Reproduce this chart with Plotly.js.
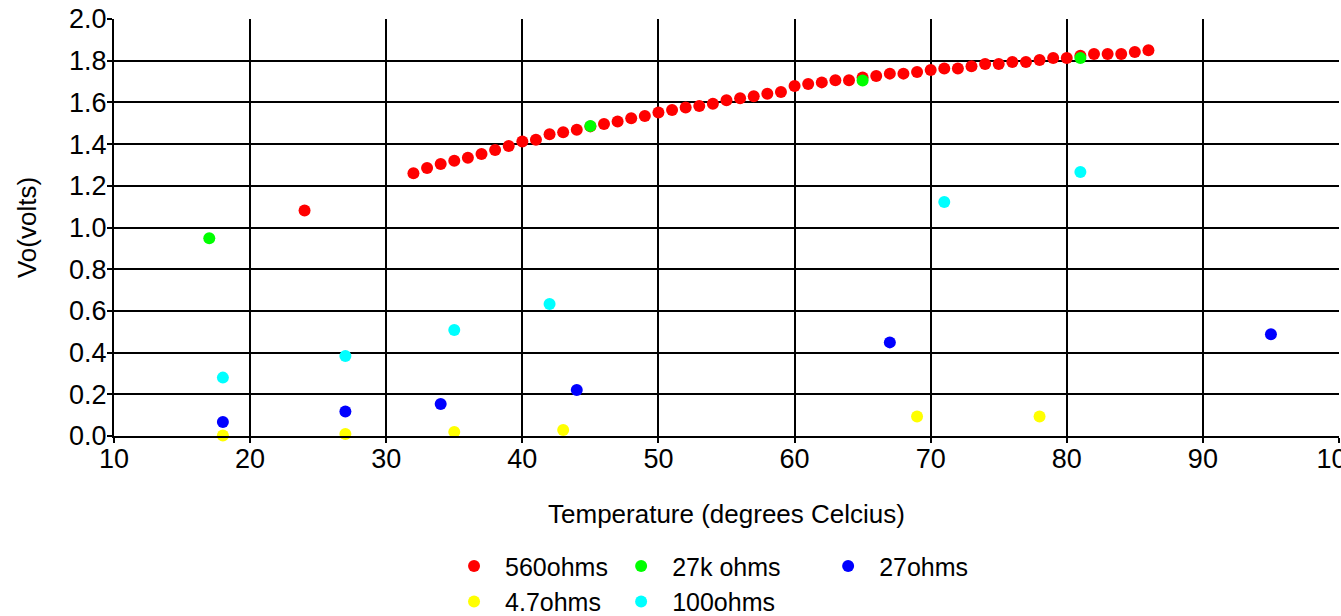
<!DOCTYPE html>
<html>
<head>
<meta charset="utf-8">
<script src="https://cdn.plot.ly/plotly-3.0.1.min.js"></script>
<style>
  html, body { margin: 0; padding: 0; background: #ffffff; overflow: hidden; }
  #chart { width: 1341px; height: 616px; }
</style>
</head>
<body>
<div id="chart"></div>
<script>
// ---- data ----
var temp560 = [24, 32, 33, 34, 35, 36, 37, 38, 39, 40, 41, 42, 43, 44, 45, 46, 47, 48, 49, 50,
               51, 52, 53, 54, 55, 56, 57, 58, 59, 60, 61, 62, 63, 64, 65, 66, 67, 68, 69, 70,
               71, 72, 73, 74, 75, 76, 77, 78, 79, 80, 81, 82, 83, 84, 85, 86];
var vo560 = [1.081, 1.26, 1.285, 1.305, 1.32, 1.335, 1.352, 1.372, 1.391, 1.412, 1.421, 1.447, 1.457, 1.469, 1.485, 1.496, 1.508, 1.524, 1.535, 1.552,
             1.563, 1.575, 1.583, 1.594, 1.61, 1.62, 1.629, 1.642, 1.65, 1.679, 1.688, 1.696, 1.706, 1.706, 1.72, 1.727, 1.738, 1.738, 1.746, 1.755,
             1.763, 1.763, 1.773, 1.784, 1.784, 1.794, 1.794, 1.803, 1.813, 1.813, 1.824, 1.832, 1.832, 1.832, 1.842, 1.85];

var temp27k = [17, 45, 65, 81];
var vo27k = [0.948, 1.487, 1.705, 1.813];

var temp27 = [18, 27, 34, 44, 67, 95];
var vo27 = [0.067, 0.117, 0.153, 0.221, 0.449, 0.488];

var temp4p7 = [18, 27, 35, 43, 69, 78];
var vo4p7 = [0.002, 0.01, 0.019, 0.029, 0.093, 0.093];

var temp100 = [18, 27, 35, 42, 71, 81];
var vo100 = [0.28, 0.384, 0.508, 0.633, 1.122, 1.266];

var seriesNames = ["560ohms", "27k ohms", "27ohms", "4.7ohms", "100ohms"];
var xTickVals = [10, 20, 30, 40, 50, 60, 70, 80, 90, 100];
var yTickVals = [0, 0.2, 0.4, 0.6, 0.8, 1.0, 1.2, 1.4, 1.6, 1.8, 2.0];
var yTickText = ["0.0", "0.2", "0.4", "0.6", "0.8", "1.0", "1.2", "1.4", "1.6", "1.8", "2.0"];

// ---- chart ----
var FONT = '"Liberation Sans", Arial, sans-serif';
var TICKFS = 27, TITLEFS = 26, LEGFS = 25;

function mk(x, y, name, color, size, legendId) {
  return {
    type: 'scatter', mode: 'markers', x: x, y: y, name: name,
    marker: { color: color, size: size, line: { width: 0 } },
    legend: legendId, cliponaxis: false
  };
}

var data = [
  mk(temp560, vo560, seriesNames[0], '#ff0000', 12, 'legend'),
  mk(temp27k, vo27k, seriesNames[1], '#00ff00', 12, 'legend2'),
  mk(temp27, vo27, seriesNames[2], '#0000ff', 12, 'legend3'),
  mk(temp4p7, vo4p7, seriesNames[3], '#ffff00', 12, 'legend'),
  mk(temp100, vo100, seriesNames[4], '#00ffff', 12, 'legend2')
];

var legendCommon = {
  orientation: 'v', xanchor: 'left', yanchor: 'top',
  font: { family: FONT, size: LEGFS, color: '#000000' },
  bgcolor: 'rgba(0,0,0,0)', borderwidth: 0, itemwidth: 52,
  tracegroupgap: 0
};

var LY = -0.257;

var layout = {
  width: 1341, height: 616,
  margin: { l: 114, r: 2, t: 19, b: 180, pad: 0, autoexpand: false },
  paper_bgcolor: '#ffffff', plot_bgcolor: '#ffffff',
  font: { family: FONT, size: TICKFS, color: '#000000' },
  showlegend: true,
  xaxis: {
    range: [10, 100], tickvals: xTickVals, ticktext: xTickVals.map(String),
    showgrid: true, gridcolor: '#000000', gridwidth: 2,
    showline: true, linecolor: '#000000', linewidth: 2,
    ticks: 'outside', ticklen: 5, tickwidth: 2, tickcolor: '#000000',
    ticklabelstandoff: -7, ticklabeloverflow: 'allow',
    zeroline: false, automargin: false,
    tickfont: { family: FONT, size: TICKFS, color: '#000000' },
    title: { text: 'Temperature (degrees Celcius)', font: { family: FONT, size: TITLEFS, color: '#000000' }, standoff: 31 }
  },
  yaxis: {
    range: [0, 2.0], tickvals: yTickVals, ticktext: yTickText,
    showgrid: true, gridcolor: '#000000', gridwidth: 2,
    showline: true, linecolor: '#000000', linewidth: 2,
    ticks: 'outside', ticklen: 5, tickwidth: 2, tickcolor: '#000000',
    ticklabelstandoff: -5,
    zeroline: false, automargin: false,
    tickfont: { family: FONT, size: TICKFS, color: '#000000' },
    title: { text: 'Vo(volts)', font: { family: FONT, size: TITLEFS, color: '#000000' }, standoff: 25 }
  },
  legend: Object.assign({}, legendCommon, { x: 0.2686, y: LY }),
  legend2: Object.assign({}, legendCommon, { x: 0.405, y: LY }),
  legend3: Object.assign({}, legendCommon, { x: 0.574, y: LY })
};

Plotly.newPlot('chart', data, layout, { displayModeBar: false, staticPlot: true });
</script>
</body>
</html>
